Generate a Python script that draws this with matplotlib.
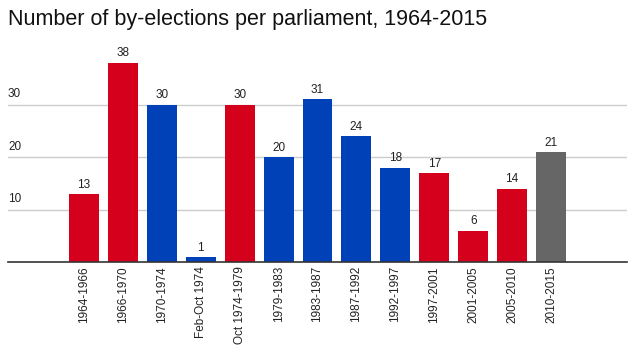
import matplotlib.pyplot as plt
from matplotlib.transforms import blended_transform_factory

parliaments = ['1964-1966', '1966-1970', '1970-1974', 'Feb-Oct 1974', 'Oct 1974-1979',
               '1979-1983', '1983-1987', '1987-1992', '1992-1997', '1997-2001',
               '2001-2005', '2005-2010', '2010-2015']
by_elections = [13, 38, 30, 1, 30, 20, 31, 24, 18, 17, 6, 14, 21]
# party in government: L = Labour, C = Conservative, X = coalition
party = ['L', 'L', 'C', 'C', 'L', 'C', 'C', 'C', 'C', 'L', 'L', 'L', 'X']
yticks = [10, 20, 30]

colours = {'L': '#d5001c', 'C': '#0041b7', 'X': '#666666'}

plt.rcParams['font.family'] = ['Liberation Sans', 'DejaVu Sans']

fig = plt.figure(figsize=(6.34, 3.53), dpi=100)
W, H = 634, 353
ax = fig.add_axes([8 / W, 1 - 262 / H, 619 / W, 212 / H])

x = list(range(len(parliaments)))
ax.bar(x, by_elections, width=0.77, color=[colours[p] for p in party], zorder=2)

for xi, v in zip(x, by_elections):
    ax.text(xi, v + 0.6, str(v), ha='center', va='bottom', fontsize=8.5, color='#222222')

ax.set_xlim(-1.95, len(parliaments) - 1 + 1.95)
ax.set_ylim(0, 212 / 5.25)

for y in yticks:
    ax.axhline(y, color='#cccccc', linewidth=1, zorder=1)
trans = blended_transform_factory(ax.transAxes, ax.transData)
for y in yticks:
    ax.text(0.0, y + 0.8, str(y), transform=trans, ha='left', va='bottom',
            fontsize=8.5, color='#222222')

ax.set_yticks([])
ax.set_xticks(x)
ax.set_xticklabels(parliaments, rotation=90, fontsize=8.5, color='#222222')
ax.tick_params(axis='x', length=0, pad=3)
for s in ['top', 'right', 'left']:
    ax.spines[s].set_visible(False)
ax.spines['bottom'].set_color('#333333')
ax.spines['bottom'].set_linewidth(1.2)
ax.spines['bottom'].set_zorder(3)

fig.text(8 / W, 1 - 9 / H, 'Number of by-elections per parliament, 1964-2015',
         ha='left', va='top', fontsize=15.5, color='#111111')

fig.savefig('out.png', dpi=100)
